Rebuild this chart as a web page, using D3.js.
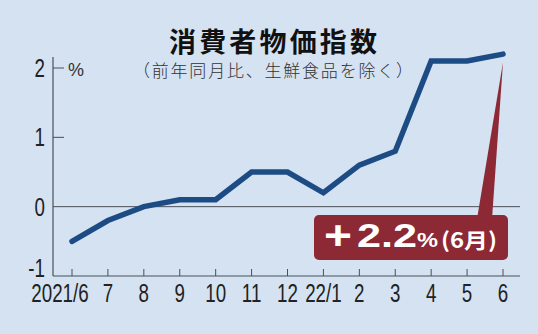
<!DOCTYPE html>
<html>
<head>
<meta charset="utf-8">
<script src="https://cdn.jsdelivr.net/npm/d3@7"></script>
<style>
  html, body { margin: 0; padding: 0; background: #d5e2f2; }
  svg { display: block; }
</style>
</head>
<body>
<div id="chart"></div>
<script>
// data
var months = ["2021/6", "7", "8", "9", "10", "11", "12", "22/1", "2", "3", "4", "5", "6"];
var values = [-0.5, -0.2, 0.0, 0.1, 0.1, 0.5, 0.5, 0.2, 0.6, 0.8, 2.1, 2.1, 2.2];
var yTicks = [-1, 0, 1, 2];
var title = "消費者物価指数";
var subtitle = "（前年同月比、生鮮食品を除く）";
var calloutSign = "+";
var calloutValue = "2.2";
var calloutUnit = "%";
var calloutMonth = "(6月)";

var width = 538;
var height = 334;
var bg = "#d5e2f2";
var lineColor = "#1d4c85";
var red = "#8c2935";
var axisColor = "#4a4f58";
var numFont = "'Liberation Sans', Arial, sans-serif";
var jpFont = "'Noto Sans CJK JP', 'Noto Sans', sans-serif";

var svg = d3.select("#chart")
  .append("svg")
    .attr("width", width)
    .attr("height", height);

svg.append("rect")
  .attr("width", width)
  .attr("height", height)
  .attr("fill", bg);

var x = d3.scalePoint()
  .domain(months)
  .range([72, 503]);

var y = d3.scaleLinear()
  .domain([-1, 2])
  .range([276, 68]);

var axisLeftX = 53;
var axisRightX = 520;

// title
svg.append("text")
  .attr("x", 273)
  .attr("y", 52)
  .attr("text-anchor", "middle")
  .style("font-family", jpFont)
  .style("font-weight", "bold")
  .style("font-size", "27px")
  .attr("fill", "#111")
  .attr("textLength", 208)
  .text(title);

svg.append("text")
  .attr("x", 273)
  .attr("y", 77)
  .attr("text-anchor", "middle")
  .style("font-family", jpFont)
  .style("font-weight", "300")
  .style("font-size", "17px")
  .attr("fill", "#333")
  .attr("textLength", 280)
  .text(subtitle);

// zero line
svg.append("line")
  .attr("x1", axisLeftX)
  .attr("x2", axisRightX)
  .attr("y1", y(0))
  .attr("y2", y(0))
  .attr("stroke", axisColor)
  .attr("stroke-width", 1);

// y axis
svg.append("line")
  .attr("x1", axisLeftX)
  .attr("x2", axisLeftX)
  .attr("y1", 57)
  .attr("y2", y(-1))
  .attr("stroke", axisColor)
  .attr("stroke-width", 1.2);

svg.selectAll(".ytick")
  .data(yTicks.filter(function (d) { return d > 0; }))
  .enter()
  .append("line")
    .attr("class", "ytick")
    .attr("x1", axisLeftX)
    .attr("x2", axisLeftX + 11)
    .attr("y1", function (d) { return y(d); })
    .attr("y2", function (d) { return y(d); })
    .attr("stroke", axisColor)
    .attr("stroke-width", 1);

svg.selectAll(".ylabel")
  .data(yTicks)
  .enter()
  .append("g")
    .attr("class", "ylabel")
    .attr("transform", function (d) {
      // bottom label sits on the axis, not centred
      var by = d === -1 ? y(d) + 1 : y(d) + 9;
      return "translate(45," + by + ") scale(0.75,1)";
    })
  .append("text")
    .attr("text-anchor", "end")
    .style("font-family", numFont)
    .style("font-size", "25px")
    .attr("fill", "#222")
    .text(function (d) { return d; });

svg.append("text")
  .attr("x", 68)
  .attr("y", 76)
  .style("font-family", numFont)
  .style("font-size", "18px")
  .attr("fill", "#333")
  .text("%");

// x axis
svg.append("line")
  .attr("x1", axisLeftX)
  .attr("x2", axisRightX)
  .attr("y1", y(-1))
  .attr("y2", y(-1))
  .attr("stroke", axisColor)
  .attr("stroke-width", 1.2);

svg.selectAll(".xtick")
  .data(months)
  .enter()
  .append("line")
    .attr("class", "xtick")
    .attr("x1", function (d) { return x(d); })
    .attr("x2", function (d) { return x(d); })
    .attr("y1", y(-1))
    .attr("y2", y(-1) - 7)
    .attr("stroke", axisColor)
    .attr("stroke-width", 1);

svg.selectAll(".xlabel")
  .data(months)
  .enter()
  .append("g")
    .attr("class", "xlabel")
    .attr("transform", function (d, i) {
      var dx = i === 0 ? -12 : 0;
      return "translate(" + (x(d) + dx) + ",302) scale(0.75,1)";
    })
  .append("text")
    .attr("text-anchor", "middle")
    .style("font-family", numFont)
    .style("font-size", "25px")
    .attr("fill", "#222")
    .text(function (d) { return d; });

// line
var line = d3.line()
  .x(function (d, i) { return x(months[i]); })
  .y(function (d) { return y(d); });

svg.append("path")
  .datum(values)
  .attr("d", line)
  .attr("fill", "none")
  .attr("stroke", lineColor)
  .attr("stroke-width", 5.5)
  .attr("stroke-linejoin", "miter")
  .attr("stroke-linecap", "round");

// callout
var last = values.length - 1;
var tipX = x(months[last]);
var tipY = y(values[last]) + 8;
var box = {x: 314, y: 215, w: 194, h: 45};

svg.append("path")
  .attr("d", "M" + tipX + "," + tipY +
             "L" + 492 + "," + (box.y + 4) +
             "L" + 477 + "," + (box.y + 4) + "Z")
  .attr("fill", red);

svg.append("rect")
  .attr("x", box.x)
  .attr("y", box.y)
  .attr("width", box.w)
  .attr("height", box.h)
  .attr("rx", 5)
  .attr("fill", red);

var base = box.y + 32;
var label = svg.append("g")
  .attr("fill", "#fff")
  .style("font-family", numFont)
  .style("font-weight", "bold");

label.append("text")
  .attr("x", box.x + 10)
  .attr("y", base + 2)
  .style("font-size", "40px")
  .attr("textLength", 28)
  .attr("lengthAdjust", "spacingAndGlyphs")
  .text(calloutSign);

label.append("text")
  .attr("x", box.x + 43)
  .attr("y", base)
  .style("font-size", "34px")
  .attr("textLength", 60)
  .attr("lengthAdjust", "spacingAndGlyphs")
  .text(calloutValue);

label.append("text")
  .attr("x", box.x + 103)
  .attr("y", base)
  .style("font-size", "21px")
  .attr("textLength", 21)
  .attr("lengthAdjust", "spacingAndGlyphs")
  .text(calloutUnit);

label.append("text")
  .attr("x", box.x + 127)
  .attr("y", base + 1)
  .style("font-family", jpFont)
  .style("font-size", "21px")
  .attr("textLength", 56)
  .attr("lengthAdjust", "spacingAndGlyphs")
  .text(calloutMonth);
</script>
</body>
</html>
